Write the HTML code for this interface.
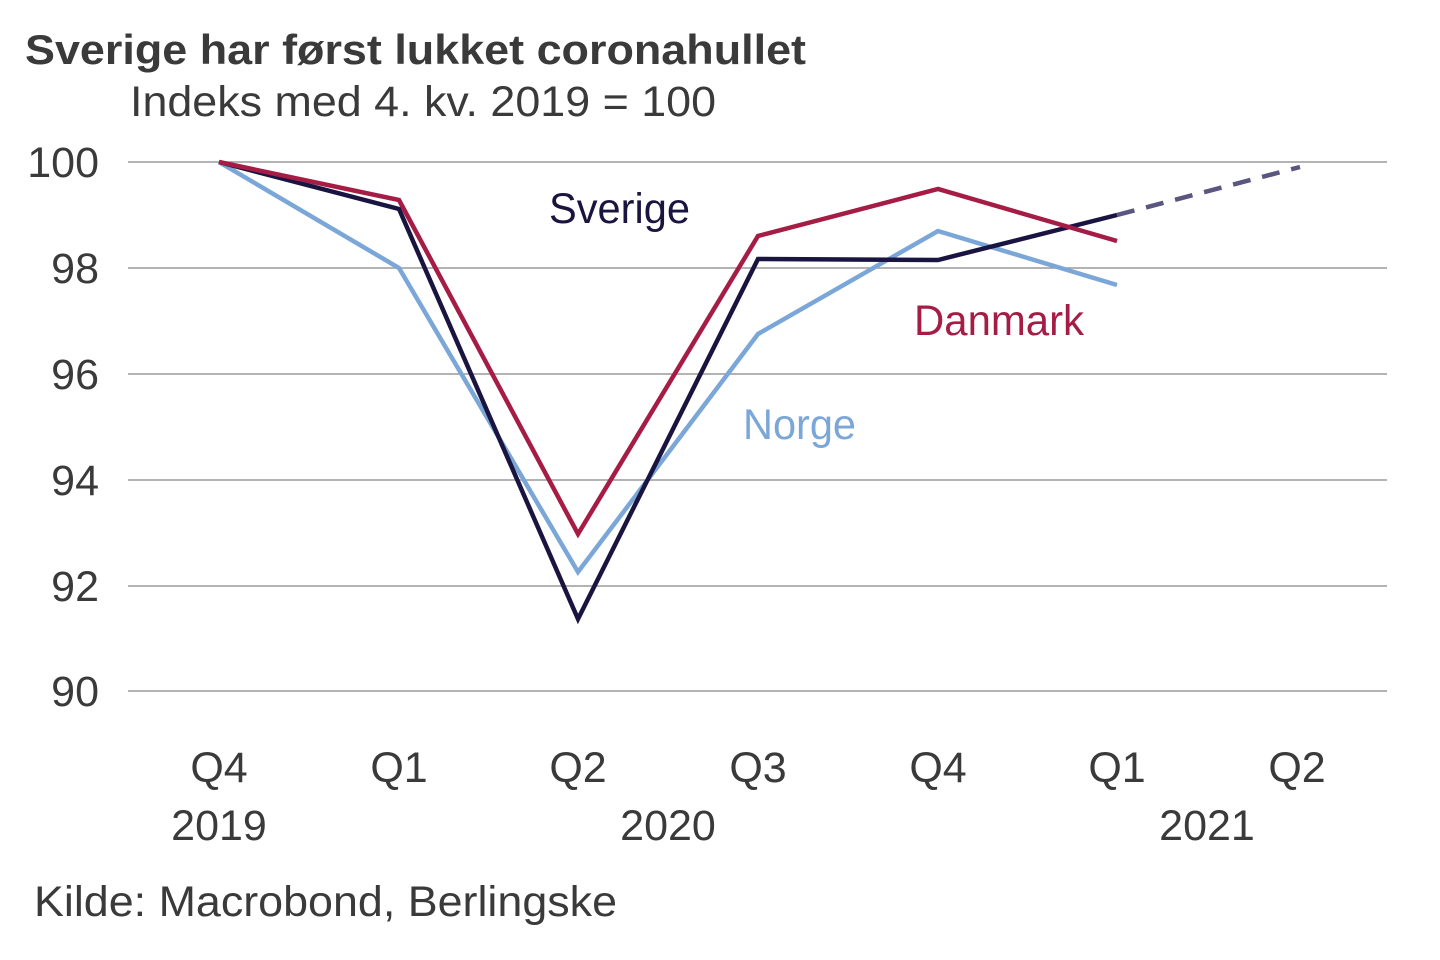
<!DOCTYPE html>
<html><head><meta charset="utf-8"><style>
html,body{margin:0;padding:0;background:#fff;}
svg{display:block;}
text{font-family:"Liberation Sans",Arial,sans-serif;fill:#3a3a3a;}
</style></head><body>
<svg width="1440" height="960" viewBox="0 0 1440 960" xmlns="http://www.w3.org/2000/svg">
<text x="25" y="64" font-size="42" font-weight="bold" fill="#333" textLength="781" lengthAdjust="spacingAndGlyphs">Sverige har først lukket coronahullet</text>
<text x="130" y="116" font-size="43" textLength="586" lengthAdjust="spacingAndGlyphs">Indeks med 4. kv. 2019 = 100</text>
<g stroke="#9a9a9a" stroke-width="1.5">
<line x1="128" x2="1387" y1="162" y2="162"/>
<line x1="128" x2="1387" y1="268" y2="268"/>
<line x1="128" x2="1387" y1="374" y2="374"/>
<line x1="128" x2="1387" y1="480" y2="480"/>
<line x1="128" x2="1387" y1="586" y2="586"/>
<line x1="128" x2="1387" y1="691" y2="691"/>
</g>
<g font-size="43" text-anchor="end">
<text x="99" y="177">100</text>
<text x="99" y="283">98</text>
<text x="99" y="389">96</text>
<text x="99" y="495">94</text>
<text x="99" y="601">92</text>
<text x="99" y="706">90</text>
</g>
<g font-size="43" text-anchor="middle">
<text x="219" y="782">Q4</text>
<text x="399" y="782">Q1</text>
<text x="578" y="782">Q2</text>
<text x="758" y="782">Q3</text>
<text x="938" y="782">Q4</text>
<text x="1117" y="782">Q1</text>
<text x="1297" y="782">Q2</text>
<text x="219" y="840">2019</text>
<text x="668" y="840">2020</text>
<text x="1207" y="840">2021</text>
</g>
<g fill="none" stroke-width="4.5" stroke-linejoin="miter">
<polyline stroke="#7ba7d8" points="219,162 399,268 578,572 758,334 938,231 1117,285"/>
<polyline stroke="#1a1440" points="219,162 399,209 578,619 758,259 938,260 1117,215"/>
<polyline stroke="#a51c45" points="219,162 399,200 578,534 758,236 938,189 1117,241"/>
<line x1="1117" y1="215" x2="1300" y2="167" stroke="#5a5680" stroke-dasharray="18,12"/>
</g>
<text x="549" y="223" font-size="43" style="fill:#1a1440" textLength="141" lengthAdjust="spacingAndGlyphs">Sverige</text>
<text x="914" y="335" font-size="43" style="fill:#a51c45" textLength="170" lengthAdjust="spacingAndGlyphs">Danmark</text>
<text x="743" y="439" font-size="43" style="fill:#7ba7d8" textLength="113" lengthAdjust="spacingAndGlyphs">Norge</text>
<text x="34" y="916" font-size="43" textLength="583" lengthAdjust="spacingAndGlyphs">Kilde: Macrobond, Berlingske</text>
</svg>
</body></html>
